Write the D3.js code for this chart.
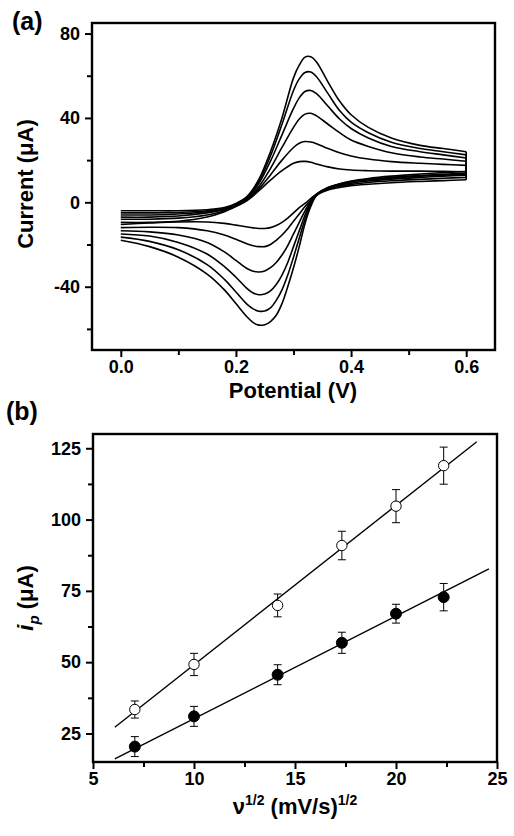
<!DOCTYPE html>
<html><head><meta charset="utf-8">
<script src="https://cdn.jsdelivr.net/npm/d3@7"></script>
<style>
html,body{margin:0;padding:0;background:#fff;}
svg{display:block;background:#fff;}
text{font-family:"Liberation Sans",Arial,Helvetica,sans-serif;font-weight:bold;fill:#000;}
</style></head><body>
<svg id="chart" width="514" height="836"></svg>
<script>
// ---------- Panel (a): cyclic voltammograms (6 scan rates) ----------
const potentialForward = [0, 0.05, 0.1, 0.15, 0.18, 0.2, 0.22, 0.24, 0.26, 0.28, 0.30, 0.31, 0.32, 0.33, 0.34, 0.36, 0.38, 0.40, 0.43, 0.47, 0.52, 0.56, 0.6];
const potentialReverse = [0.6, 0.56, 0.52, 0.47, 0.43, 0.40, 0.38, 0.36, 0.34, 0.33, 0.32, 0.31, 0.30, 0.29, 0.28, 0.27, 0.26, 0.25, 0.24, 0.23, 0.22, 0.20, 0.18, 0.15, 0.10, 0.05, 0];

const forward50  = [-9.5, -9.5, -9, -7, -4.5, -2, 1, 5.5, 10.5, 15, 18.5, 19.3, 19.4, 19, 18.2, 16.8, 15.8, 15.3, 15, 14.8, 14.8, 14.7, 14.5];
const forward100 = [-8, -8, -7.5, -6, -4, -1.5, 1.5, 6.5, 13, 20, 26, 28, 28.8, 28.6, 27.8, 25.5, 23.5, 22, 20.5, 19.3, 18.5, 18, 17.5];
const forward200 = [-7, -7, -6.5, -5, -3.5, -1.2, 1.5, 7.5, 16, 26, 35.5, 39.5, 41.8, 42.2, 41, 37, 33, 29.5, 26.5, 23.5, 21.5, 20.5, 19.5];
const forward300 = [-6, -6, -5.5, -4.5, -3, -1, 2, 9, 19.5, 32, 44.5, 49.5, 52.5, 53, 51.5, 45.5, 39.5, 35, 30.5, 26.5, 24, 22.5, 21];
const forward400 = [-5, -5, -4.8, -4, -2.8, -0.8, 2.5, 10, 22, 37, 53, 58.5, 61.5, 61.8, 59.5, 51.5, 43.5, 38, 33, 28.5, 25.5, 24, 22.5];
const forward500 = [-4, -4, -4, -3.5, -2.5, -0.5, 3, 11, 24, 40, 59, 65, 68.8, 69, 66.5, 57, 48, 41.5, 35.5, 30.5, 27, 25.5, 24];

const reverse50  = [13.3, 12.9, 12.4, 11.6, 10.7, 9.7, 8.6, 7, 4, 1.8, -0.5, -2.5, -5, -7.5, -9.5, -11, -12, -12.4, -12.4, -12.1, -11.7, -10.8, -10, -9.3, -9.3, -9.8, -10.5];
const reverse100 = [14.6, 14.1, 13.4, 12.4, 11.3, 10.1, 8.8, 7, 3.7, 1, -2, -5.5, -9, -12.5, -15.5, -18, -20, -21, -21, -20.6, -19.8, -17.5, -15.5, -13.5, -12, -11.8, -12];
const reverse200 = [13.8, 13.3, 12.7, 11.8, 10.8, 9.7, 8.5, 6.8, 3.6, 0.5, -4, -9.5, -15, -20.5, -25, -28.5, -31, -32.5, -33, -32.7, -31.5, -27.5, -23.5, -19, -15.5, -14, -13.5];
const reverse300 = [12.8, 12.4, 11.8, 11, 10.1, 9.1, 8.1, 6.5, 3.5, 0, -6, -13.5, -21, -28.5, -34.5, -39, -42, -43.5, -43.8, -43, -41, -35.5, -30.5, -24.5, -19, -16, -15];
const reverse400 = [11.8, 11.4, 10.9, 10.2, 9.4, 8.5, 7.6, 6.2, 3.4, -1, -8, -17, -26, -34.5, -41.5, -46.5, -50, -51.5, -51.6, -50.5, -48.5, -42.5, -36.5, -29.5, -22.5, -18.5, -16.5];
const reverse500 = [10.7, 10.3, 9.9, 9.3, 8.6, 7.9, 7, 5.8, 3.2, -2, -10, -21, -31, -40, -48, -53.5, -56.5, -58, -58.2, -57, -54.5, -48, -41.5, -34, -26, -21, -18];

const forwardSeries = [forward50, forward100, forward200, forward300, forward400, forward500];
const reverseSeries = [reverse50, reverse100, reverse200, reverse300, reverse400, reverse500];

const potentialTicks = [0, 0.2, 0.4, 0.6];
const potentialMinorTicks = [0.1, 0.3, 0.5];
const currentTicks = [-40, 0, 40, 80];
const currentMinorTicks = [-60, -20, 20, 60];

// ---------- Panel (b): peak current vs sqrt(scan rate) ----------
const sqrtScanRate = [7.07, 10, 14.14, 17.32, 20, 22.36];
const ipOpen = [33.4, 49.2, 69.9, 90.9, 104.7, 118.9];
const ipOpenErr = [3.0, 3.9, 4.0, 5.0, 5.8, 6.5];
const ipFilled = [20.4, 31.0, 45.6, 56.8, 67.0, 72.8];
const ipFilledErr = [3.5, 3.5, 3.5, 3.7, 3.3, 4.8];
const fitOpenX = [6.08, 24.0];
const fitOpenY = [27.2, 127.3];
const fitFilledX = [6.08, 24.6];
const fitFilledY = [16.1, 82.7];

const sqrtTicks = [5, 10, 15, 20, 25];
const sqrtMinorTicks = [7.5, 12.5, 17.5, 22.5];
const ipTicks = [25, 50, 75, 100, 125];
const ipMinorTicks = [37.5, 62.5, 87.5, 112.5];

// ---------- drawing ----------
const svg = d3.select("#chart");
svg.append("rect").attr("width", 514).attr("height", 836).attr("fill", "#fff");

const fmtNum = d => (d < 0 ? "-" + Math.abs(d) : String(d));

function drawAxes(x, y, xt, xmt, yt, ymt, xfmt, yfmt) {
  const [x0, x1] = x.range();
  const [y0, y1] = y.range();
  const gx = svg.append("g").attr("transform", `translate(0,${y0})`)
    .call(d3.axisBottom(x).tickValues(xt).tickSize(7).tickPadding(3).tickFormat(xfmt));
  const gxm = svg.append("g").attr("transform", `translate(0,${y0})`)
    .call(d3.axisBottom(x).tickValues(xmt).tickSize(5).tickFormat(""));
  const gy = svg.append("g").attr("transform", `translate(${x0},0)`)
    .call(d3.axisLeft(y).tickValues(yt).tickSize(7).tickPadding(5).tickFormat(yfmt));
  const gym = svg.append("g").attr("transform", `translate(${x0},0)`)
    .call(d3.axisLeft(y).tickValues(ymt).tickSize(5).tickFormat(""));
  [gx, gxm, gy, gym].forEach(g => {
    g.select(".domain").remove();
    g.selectAll(".tick line").attr("stroke", "#000").attr("stroke-width", 2);
    g.selectAll(".tick text").attr("font-size", 18).attr("font-weight", "bold")
      .attr("font-family", '"Liberation Sans", Arial, sans-serif').attr("fill", "#000");
  });
  svg.append("rect").attr("x", x0).attr("y", y1).attr("width", x1 - x0).attr("height", y0 - y1)
    .attr("fill", "none").attr("stroke", "#000").attr("stroke-width", 2.4);
}

// Panel (a)
const xA = d3.scaleLinear().domain([-0.05, 0.65]).range([92, 495]);
const yA = d3.scaleLinear().domain([-70, 85]).range([350, 23]);

const cvLine = d3.line().x(d => xA(d[0])).y(d => yA(d[1])).curve(d3.curveCatmullRom.alpha(0.5));
const gCurves = svg.append("g");
forwardSeries.forEach((fw, i) => {
  const rv = reverseSeries[i];
  const fPts = potentialForward.map((e, j) => [e, fw[j]]);
  const rPts = potentialReverse.map((e, j) => [e, rv[j]]);
  gCurves.append("path").attr("d", cvLine(fPts)).attr("fill", "none").attr("stroke", "#000").attr("stroke-width", 1.6);
  gCurves.append("path").attr("d", cvLine(rPts)).attr("fill", "none").attr("stroke", "#000").attr("stroke-width", 1.6);
  gCurves.append("path").attr("d", d3.line().x(d => xA(d[0])).y(d => yA(d[1]))([fPts[fPts.length - 1], rPts[0]]))
    .attr("fill", "none").attr("stroke", "#000").attr("stroke-width", 1.6);
});
drawAxes(xA, yA, potentialTicks, potentialMinorTicks, currentTicks, currentMinorTicks, d3.format(".1f"), fmtNum);

svg.append("text").attr("x", 293).attr("y", 398).attr("text-anchor", "middle").attr("font-size", 22).text("Potential (V)");
svg.append("text").attr("transform", "translate(33,184) rotate(-90)").attr("text-anchor", "middle").attr("font-size", 22).text("Current (\u03BCA)");
svg.append("text").attr("x", 12).attr("y", 30).attr("font-size", 25).text("(a)");

// Panel (b)
const xB = d3.scaleLinear().domain([5, 25]).range([93, 497]);
const yB = d3.scaleLinear().domain([15, 130]).range([762, 434]);

const fitLine = d3.line().x(d => xB(d[0])).y(d => yB(d[1]));
svg.append("path").attr("d", fitLine(fitOpenX.map((v, i) => [v, fitOpenY[i]]))).attr("stroke", "#000").attr("stroke-width", 1.4).attr("fill", "none");
svg.append("path").attr("d", fitLine(fitFilledX.map((v, i) => [v, fitFilledY[i]]))).attr("stroke", "#000").attr("stroke-width", 1.4).attr("fill", "none");

function drawSeries(vals, errs, filled) {
  const g = svg.append("g");
  sqrtScanRate.forEach((xv, i) => {
    const cx = xB(xv), top = yB(vals[i] + errs[i]), bot = yB(vals[i] - errs[i]);
    g.append("line").attr("x1", cx).attr("x2", cx).attr("y1", top).attr("y2", bot).attr("stroke", "#000").attr("stroke-width", 1);
    g.append("line").attr("x1", cx - 4).attr("x2", cx + 4).attr("y1", top).attr("y2", top).attr("stroke", "#000").attr("stroke-width", 1);
    g.append("line").attr("x1", cx - 4).attr("x2", cx + 4).attr("y1", bot).attr("y2", bot).attr("stroke", "#000").attr("stroke-width", 1);
  });
  g.selectAll("circle").data(sqrtScanRate).join("circle")
    .attr("cx", d => xB(d)).attr("cy", (d, i) => yB(vals[i]))
    .attr("r", filled ? 5.5 : 5.2)
    .attr("fill", filled ? "#000" : "#fff").attr("stroke", "#000").attr("stroke-width", 1);
}
drawSeries(ipOpen, ipOpenErr, false);
drawSeries(ipFilled, ipFilledErr, true);

drawAxes(xB, yB, sqrtTicks, sqrtMinorTicks, ipTicks, ipMinorTicks, d3.format("d"), fmtNum);

const xt = svg.append("text").attr("x", 295).attr("y", 814).attr("text-anchor", "middle").attr("font-size", 22);
xt.append("tspan").text("\u03BD");
xt.append("tspan").attr("font-size", 14).attr("dy", -9).text("1/2");
xt.append("tspan").attr("dy", 9).text(" (mV/s)");
xt.append("tspan").attr("font-size", 14).attr("dy", -9).text("1/2");

const yt = svg.append("text").attr("transform", "translate(33,598) rotate(-90)").attr("text-anchor", "middle").attr("font-size", 22);
yt.append("tspan").attr("font-style", "italic").text("i");
yt.append("tspan").attr("font-style", "italic").attr("font-size", 15).attr("dy", 6).text("p");
yt.append("tspan").attr("dy", -6).text(" (\u03BCA)");

svg.append("text").attr("x", 6).attr("y", 420).attr("font-size", 25).text("(b)");
</script></body></html>
